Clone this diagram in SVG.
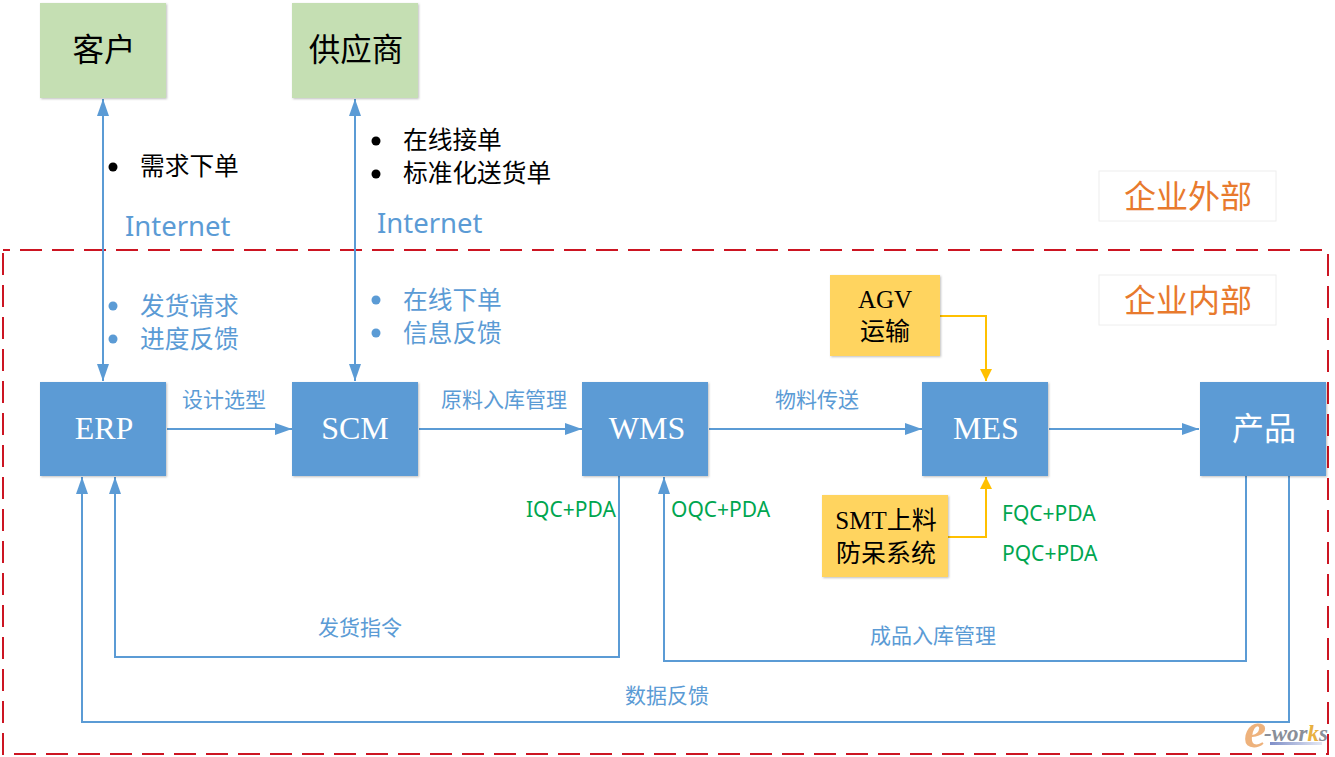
<svg xmlns="http://www.w3.org/2000/svg" width="1335" height="757" viewBox="0 0 1335 757">
<defs>
<marker id="ab" markerUnits="userSpaceOnUse" markerWidth="18" markerHeight="12" refX="17" refY="6" orient="auto-start-reverse"><path d="M0 0L17 6L0 12Z" fill="#5b9bd5"/></marker>
<marker id="ay" markerUnits="userSpaceOnUse" markerWidth="13" markerHeight="12" refX="12" refY="6" orient="auto"><path d="M0 0L12 6L0 12Z" fill="#ffc000"/></marker>
<filter id="sh" x="-5%" y="-5%" width="110%" height="110%"><feDropShadow dx="1" dy="1" stdDeviation="1" flood-color="#000" flood-opacity="0.25"/></filter>
<linearGradient id="wm" x1="0" x2="1" y1="0" y2="0"><stop offset="0" stop-color="#7f8fc8"/><stop offset="1" stop-color="#e4e8f4"/></linearGradient>
</defs>
<style>
text{font-family:"Liberation Serif","Noto Sans CJK SC",serif;text-anchor:middle}
.b{fill:#5b9bd5;filter:url(#sh)}
.g{fill:#c5dfb3;filter:url(#sh)}
.y{fill:#ffd45f;filter:url(#sh)}
.w{fill:#fff;font-size:32px}
.k{fill:#000;font-size:31.5px}
.ky{fill:#000;font-size:25px}
.c{fill:none;stroke:#5b9bd5;stroke-width:2}
.cy{fill:none;stroke:#ffc000;stroke-width:2}
.lb{font-family:"Noto Sans CJK SC",sans-serif;fill:#5b9bd5;font-size:21px}
.l2{font-family:"Noto Sans CJK SC",sans-serif;fill:#5b9bd5;font-size:24.7px;text-anchor:start}
.lk{font-family:"Noto Sans CJK SC",sans-serif;fill:#000;font-size:24.7px;text-anchor:start}
.in{font-family:"Noto Sans","Noto Sans CJK SC",sans-serif;fill:#5b9bd5;font-size:27.5px;text-anchor:start}
.gr{font-family:"Noto Sans","Noto Sans CJK SC",sans-serif;fill:#00a650;font-size:21px;text-anchor:start}
.or{font-family:"Noto Sans CJK SC",sans-serif;fill:#e87a2d;font-size:32px}
</style>
<rect x="3" y="250" width="1325" height="504" fill="none" stroke="#cc1522" stroke-width="2" stroke-dasharray="22 10" stroke-dashoffset="15"/>
<g id="connectors">
<path class="c" d="M103 99V381" marker-start="url(#ab)" marker-end="url(#ab)"/>
<path class="c" d="M355 99V381" marker-start="url(#ab)" marker-end="url(#ab)"/>
<path class="c" d="M167 429H292" marker-end="url(#ab)"/>
<path class="c" d="M419 429H582" marker-end="url(#ab)"/>
<path class="c" d="M709 429H922" marker-end="url(#ab)"/>
<path class="c" d="M1049 429H1199" marker-end="url(#ab)"/>
<path class="c" d="M619 476V657H115V477" marker-end="url(#ab)"/>
<path class="c" d="M1246 476V661H664V477" marker-end="url(#ab)"/>
<path class="c" d="M1289 476V722H82V477" marker-end="url(#ab)"/>
<path class="cy" d="M940 316H986V381" marker-end="url(#ay)"/>
<path class="cy" d="M948 537H986V477" marker-end="url(#ay)"/>
</g>
<g id="n-customer"><rect class="g" x="40" y="3" width="126" height="95"/><text class="k" x="104" y="61" style="font-family:'Noto Sans CJK SC',sans-serif">客户</text></g>
<g id="n-supplier"><rect class="g" x="292" y="3" width="126" height="95"/><text class="k" x="356" y="61" style="font-family:'Noto Sans CJK SC',sans-serif">供应商</text></g>
<g id="n-erp"><rect class="b" x="40" y="382" width="126" height="94"/><text class="w" x="104" y="439">ERP</text></g>
<g id="n-scm"><rect class="b" x="292" y="382" width="126" height="94"/><text class="w" x="355" y="439">SCM</text></g>
<g id="n-wms"><rect class="b" x="582" y="382" width="126" height="94"/><text class="w" x="647" y="439">WMS</text></g>
<g id="n-mes"><rect class="b" x="922" y="382" width="126" height="94"/><text class="w" x="986" y="439">MES</text></g>
<g id="n-product"><rect class="b" x="1200" y="382" width="126" height="94"/><text class="w" x="1264" y="440" style="font-family:'Noto Sans CJK SC',sans-serif">产品</text></g>
<g id="n-agv"><rect class="y" x="830" y="275" width="110" height="81"/><text class="ky" x="885" y="308">AGV</text><text class="ky" x="885" y="340">运输</text></g>
<g id="n-smt"><rect class="y" x="822" y="495" width="126" height="82"/><text class="ky" x="886" y="529">SMT上料</text><text class="ky" x="886" y="562">防呆系统</text></g>
<g id="n-out"><rect x="1099" y="171" width="177" height="50" fill="#fff" stroke="#eee"/><text class="or" x="1188" y="208">企业外部</text></g>
<g id="n-in"><rect x="1099" y="275" width="177" height="50" fill="#fff" stroke="#eee"/><text class="or" x="1188" y="312">企业内部</text></g>
<circle cx="113" cy="167" r="4.5"/><text class="lk" x="140" y="175">需求下单</text>
<circle cx="376" cy="141" r="4.5"/><text class="lk" x="403" y="149">在线接单</text>
<circle cx="376" cy="174" r="4.5"/><text class="lk" x="403" y="182">标准化送货单</text>
<text class="in" x="125" y="236">Internet</text>
<text class="in" x="377" y="233">Internet</text>
<circle cx="113" cy="306" r="4.5" fill="#5b9bd5"/><text class="l2" x="140" y="315">发货请求</text>
<circle cx="113" cy="339" r="4.5" fill="#5b9bd5"/><text class="l2" x="140" y="348">进度反馈</text>
<circle cx="376" cy="300" r="4.5" fill="#5b9bd5"/><text class="l2" x="403" y="309">在线下单</text>
<circle cx="376" cy="333" r="4.5" fill="#5b9bd5"/><text class="l2" x="403" y="342">信息反馈</text>
<text class="lb" x="224" y="407">设计选型</text>
<text class="lb" x="504" y="407">原料入库管理</text>
<text class="lb" x="817" y="407">物料传送</text>
<text class="lb" x="360" y="635">发货指令</text>
<text class="lb" x="933" y="643">成品入库管理</text>
<text class="lb" x="667" y="703">数据反馈</text>
<text class="gr" x="526" y="517">IQC+PDA</text>
<text class="gr" x="671" y="517">OQC+PDA</text>
<text class="gr" x="1002" y="521">FQC+PDA</text>
<text class="gr" x="1002" y="561">PQC+PDA</text>
<g id="watermark">
<rect x="1270" y="742" width="52" height="3" fill="url(#wm)"/>
<text x="1255" y="747" style="font-family:'Liberation Serif',serif;font-style:italic;font-weight:bold;font-size:50px;fill:#eeb27c">e</text>
<text x="1296" y="741" style="font-family:'Liberation Serif',serif;font-style:italic;font-weight:bold;font-size:23px;fill:#8a8f99">-wor<tspan fill="#e8b040">k</tspan>s</text>
</g>
</svg>
